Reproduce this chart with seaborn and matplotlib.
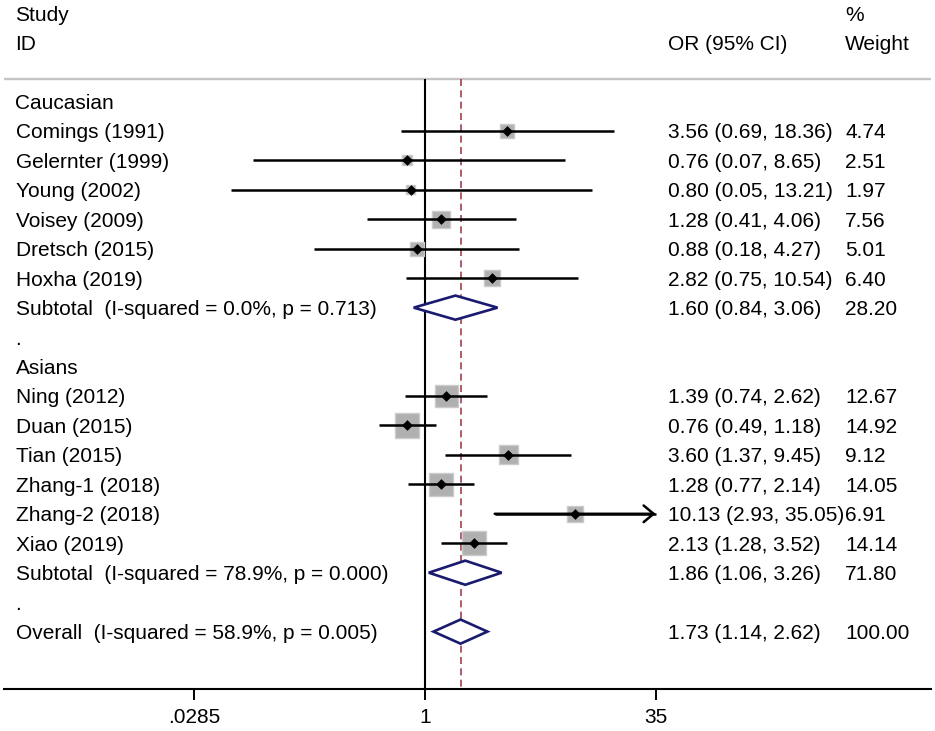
import numpy as np
import pandas as pd
import matplotlib
matplotlib.use("Agg")
import matplotlib.pyplot as plt
from matplotlib.ticker import NullLocator
import seaborn as sns

# ---------------- data ----------------
groups = ["Caucasian", "Asians"]
studies = ["Comings (1991)", "Gelernter (1999)", "Young (2002)", "Voisey (2009)",
           "Dretsch (2015)", "Hoxha (2019)",
           "Ning (2012)", "Duan (2015)", "Tian (2015)", "Zhang-1 (2018)",
           "Zhang-2 (2018)", "Xiao (2019)"]
study_group = ["Caucasian"] * 6 + ["Asians"] * 6
or_est = [3.56, 0.76, 0.80, 1.28, 0.88, 2.82, 1.39, 0.76, 3.60, 1.28, 10.13, 2.13]
or_lo = [0.69, 0.07, 0.05, 0.41, 0.18, 0.75, 0.74, 0.49, 1.37, 0.77, 2.93, 1.28]
or_hi = [18.36, 8.65, 13.21, 4.06, 4.27, 10.54, 2.62, 1.18, 9.45, 2.14, 35.05, 3.52]
weights = [4.74, 2.51, 1.97, 7.56, 5.01, 6.40, 12.67, 14.92, 9.12, 14.05, 6.91, 14.14]

sub_or = [1.60, 1.86]
sub_lo = [0.84, 1.06]
sub_hi = [3.06, 3.26]
sub_w = [28.20, 71.80]
sub_i2 = ["0.0%", "78.9%"]
sub_p = ["0.713", "0.000"]

overall_or = 1.73
overall_lo = 1.14
overall_hi = 2.62
overall_w = 100.00
overall_i2 = "58.9%"
overall_p = "0.005"

tick_values = [0.0285, 1, 35]
tick_labels = [".0285", "1", "35"]

# ---------------- styling ----------------
sns.set_theme(style="white")
plt.rcParams["font.family"] = ["Liberation Sans", "DejaVu Sans"]
FS = 15
BLACK = "#000000"
NAVY = "#1a1a6e"
RED = "#a3404f"

fig = plt.figure(figsize=(9.35, 7.31), dpi=100)
W, H = 935, 731
x_left_px, x_right_px = 4, 931
axis_px = 689
ax = fig.add_axes([x_left_px / W, (H - axis_px) / H,
                   (x_right_px - x_left_px) / W, axis_px / H])

# pixel geometry helpers (for axis limits only)
one_px, px_per_ln = 425.0, 64.85
row0_px, row_px = 101.5, 29.45
xlim = (np.exp((x_left_px - one_px) / px_per_ln), np.exp((x_right_px - one_px) / px_per_ln))
ylim = ((axis_px - row0_px) / row_px, (0 - row0_px) / row_px)

# ---------------- row layout ----------------
rows_study, rows_sub, rows_group, rows_dot = [], [], [], []
r = 0
for g in groups:
    rows_group.append(r); r += 1
    n = sum(1 for sg in study_group if sg == g)
    for _ in range(n):
        rows_study.append(r); r += 1
    rows_sub.append(r); r += 1
    rows_dot.append(r); r += 1
row_overall = r

df = pd.DataFrame({"study": studies, "row": rows_study, "or": or_est,
                   "lo": or_lo, "hi": or_hi, "w": weights})
clip_hi = max(tick_values)
clip_lo = min(tick_values)
df["hi_c"] = df["hi"].clip(upper=clip_hi)
df["lo_c"] = df["lo"].clip(lower=clip_lo)

ax.set_xscale("log")
ax.set_xlim(*xlim)
ax.set_ylim(*ylim)

# reference lines
ax.axhline(-0.75, color="#c4c4c4", lw=1.7, zorder=1)
ax.vlines(1, -0.75, ylim[0], color=BLACK, lw=1.5, zorder=1)
ax.vlines(overall_or, -0.75, ylim[0], color=RED, lw=1.2,
          linestyles=(0, (4.2, 2.6)), zorder=1)

# weight squares (area proportional to weight)
k = 20.5
sns.scatterplot(data=df, x="or", y="row", size="w",
                sizes=(k * df["w"].min(), k * df["w"].max()),
                size_norm=(df["w"].min(), df["w"].max()),
                marker="s", color="#b0b0b0", edgecolor="#cbcbcb", linewidth=1.0,
                legend=False, ax=ax, zorder=2)

# confidence intervals
ax.hlines(df["row"], df["lo_c"], df["hi_c"], color=BLACK, lw=1.8, zorder=3)
for _, rr in df[df["hi"] > clip_hi].iterrows():
    ax.annotate("", xy=(clip_hi, rr["row"]), xytext=(rr["lo_c"], rr["row"]),
                arrowprops=dict(arrowstyle="->,head_length=0.6,head_width=0.5",
                                lw=1.8, color=BLACK, shrinkA=0, shrinkB=0),
                zorder=3)

# point estimates
sns.scatterplot(data=df, x="or", y="row", marker="D", s=30, color=BLACK,
                linewidth=0, legend=False, ax=ax, zorder=4)

# diamonds
dh = 0.41
def diamond(est, lo, hi, row):
    ax.fill([lo, est, hi, est, lo], [row, row - dh, row, row + dh, row],
            facecolor="white", edgecolor=NAVY, lw=1.9, zorder=3)

for i in range(len(groups)):
    diamond(sub_or[i], sub_lo[i], sub_hi[i], rows_sub[i])
diamond(overall_or, overall_lo, overall_hi, row_overall)

# ---------------- text ----------------
tr = ax.get_yaxis_transform()
x_lab = (15.5 - x_left_px) / (x_right_px - x_left_px)
x_or = (668.5 - x_left_px) / (x_right_px - x_left_px)
x_w = (845.0 - x_left_px) / (x_right_px - x_left_px)
kw = dict(transform=tr, fontsize=FS, va="center_baseline", ha="left", color=BLACK)

ax.text(x_lab, -3, "Study", **kw)
ax.text(x_lab, -2, "ID", **kw)
ax.text(x_or, -2, "OR (95% CI)", **kw)
ax.text(x_w, -3, "%", **kw)
ax.text(x_w, -2, "Weight", **kw)

def ci_text(e, l, h):
    return f"{e:.2f} ({l:.2f}, {h:.2f})"

for g, rg in zip(groups, rows_group):
    ax.text(x_lab, rg, g, **kw)
for _, rr in df.iterrows():
    ax.text(x_lab, rr["row"], rr["study"], **kw)
    ax.text(x_or, rr["row"], ci_text(rr["or"], rr["lo"], rr["hi"]), **kw)
    ax.text(x_w, rr["row"], f"{rr['w']:.2f}", **kw)
for i in range(len(groups)):
    ax.text(x_lab, rows_sub[i], f"Subtotal  (I-squared = {sub_i2[i]}, p = {sub_p[i]})", **kw)
    ax.text(x_or, rows_sub[i], ci_text(sub_or[i], sub_lo[i], sub_hi[i]), **kw)
    ax.text(x_w, rows_sub[i], f"{sub_w[i]:.2f}", **kw)
    ax.text(x_lab, rows_dot[i], ".", **kw)
ax.text(x_lab, row_overall, f"Overall  (I-squared = {overall_i2}, p = {overall_p})", **kw)
ax.text(x_or, row_overall, ci_text(overall_or, overall_lo, overall_hi), **kw)
ax.text(x_w, row_overall, f"{overall_w:.2f}", **kw)

# ---------------- axes ----------------
ax.set_xticks(tick_values)
ax.set_xticklabels(tick_labels)
ax.xaxis.set_minor_locator(NullLocator())
ax.set_yticks([])
ax.set_xlabel("")
ax.set_ylabel("")
for s in ["left", "right", "top"]:
    ax.spines[s].set_visible(False)
ax.spines["bottom"].set_linewidth(1.5)
ax.spines["bottom"].set_color(BLACK)
ax.tick_params(axis="x", which="major", direction="out", length=8, width=1.4,
               pad=6, labelsize=FS, colors=BLACK, bottom=True)
ax.patch.set_alpha(0)
fig.patch.set_facecolor("white")

fig.savefig("out.png", dpi=100)
